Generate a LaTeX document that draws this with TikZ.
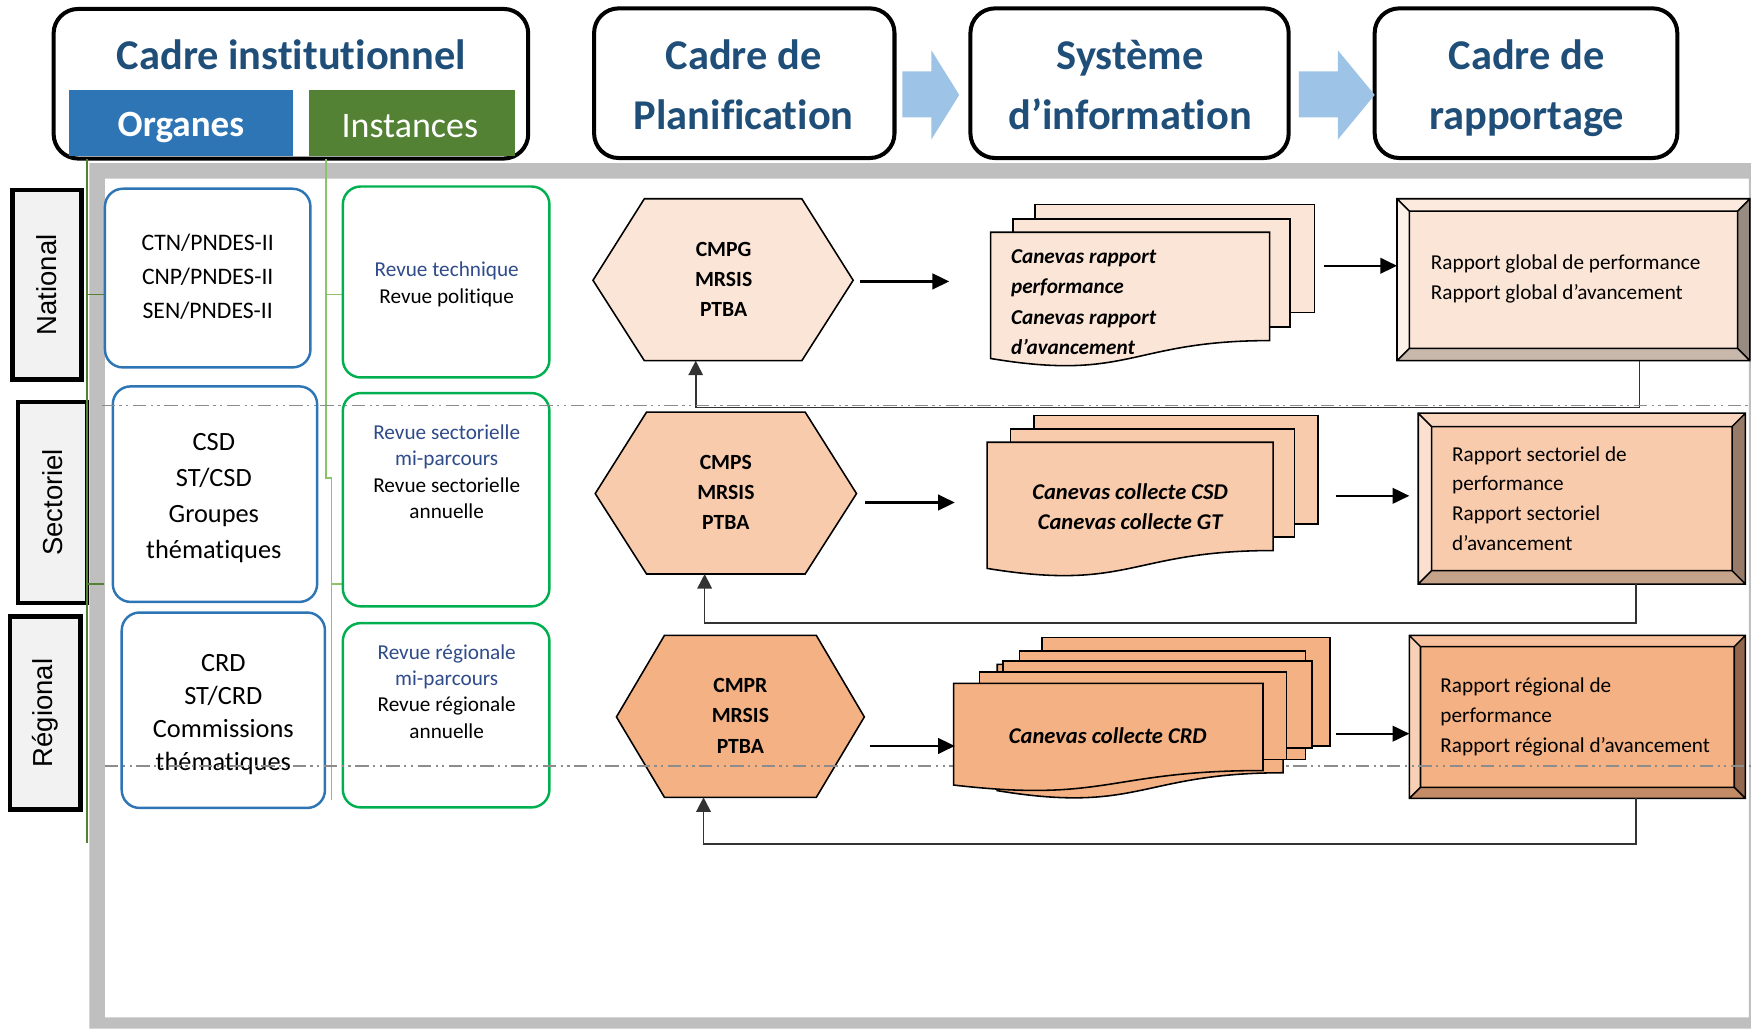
\documentclass[tikz,border=0pt]{standalone}
\usepackage{fontspec}
\setmainfont{Carlito}[Ligatures={TeX,NoCommon}]
\newfontfamily\lblfont{Liberation Sans}
\usetikzlibrary{arrows.meta}
\definecolor{ttlblue}{HTML}{1F4E79}
\definecolor{orgblue}{HTML}{2E75B6}
\definecolor{insgreen}{HTML}{548235}
\definecolor{boxgreen}{HTML}{00B050}
\definecolor{revblue}{HTML}{2F4B8A}
\definecolor{lblgray}{HTML}{F2F2F2}
\definecolor{framegray}{HTML}{BFBFBF}
\definecolor{arrblue}{HTML}{9DC3E6}
\definecolor{lineg1}{HTML}{548235}
\definecolor{lineg2}{HTML}{8CC26A}
\definecolor{pA}{HTML}{FBE5D6}
\definecolor{pB}{HTML}{F8CBAD}
\definecolor{pC}{HTML}{F4B183}
\definecolor{pAtop}{HTML}{FCEADF}
\definecolor{pAleft}{HTML}{FDF2EA}
\definecolor{pAbot}{HTML}{C8B8AC}
\definecolor{pAright}{HTML}{978B82}
\definecolor{pBtop}{HTML}{F9D5BE}
\definecolor{pBleft}{HTML}{FBE0CF}
\definecolor{pBbot}{HTML}{C5A28A}
\definecolor{pBright}{HTML}{977A68}
\definecolor{pCtop}{HTML}{F6C09C}
\definecolor{pCleft}{HTML}{F8D0B5}
\definecolor{pCbot}{HTML}{C48C66}
\definecolor{pCright}{HTML}{93674D}
\newcommand{\mybevel}[6]{%
  \fill[#6top] (#1,#2) -- (#3,#2) -- (#3-#5,#2+#5) -- (#1+#5,#2+#5) -- cycle;
  \fill[#6left] (#1,#2) -- (#1+#5,#2+#5) -- (#1+#5,#4-#5) -- (#1,#4) -- cycle;
  \fill[#6bot] (#1,#4) -- (#1+#5,#4-#5) -- (#3-#5,#4-#5) -- (#3,#4) -- cycle;
  \fill[#6right] (#3,#2) -- (#3,#4) -- (#3-#5,#4-#5) -- (#3-#5,#2+#5) -- cycle;
  \fill[#6] (#1+#5,#2+#5) rectangle (#3-#5,#4-#5);
  \draw[line width=0.7pt] (#1,#2) rectangle (#3,#4) (#1+#5,#2+#5) rectangle (#3-#5,#4-#5)
    (#1,#2) -- (#1+#5,#2+#5) (#3,#2) -- (#3-#5,#2+#5) (#1,#4) -- (#1+#5,#4-#5) (#3,#4) -- (#3-#5,#4-#5);
}
\begin{document}
\begin{tikzpicture}[x=0.5pt,y=-0.5pt,
  hdrbox/.style={draw=black, line width=1.8pt, rounded corners=11pt, fill=white, inner sep=0pt, minimum height=67pt},
  ttl/.style={text=ttlblue, font=\fontsize{19}{27}\selectfont\bfseries, align=center, inner sep=0pt},
  orgbox/.style={draw=orgblue, line width=1.1pt, rounded corners=8pt, fill=white, inner sep=0pt, align=center},
  insbox/.style={draw=boxgreen, line width=1.1pt, rounded corners=8pt, fill=white, inner sep=0pt},
  lvl/.style={draw=black, line width=2pt, fill=lblgray, rotate=90, inner sep=0pt, font=\lblfont\fontsize{12.3}{14}\selectfont},
  instxt/.style={align=center, inner sep=0pt, font=\fontsize{9.5}{11.8}\selectfont},
  hextxt/.style={align=center, inner sep=0pt, font=\bfseries\fontsize{9.7}{13.5}\selectfont},
  hexa/.style={fill=#1, draw=black, line width=0.7pt},
  mdoc/.style={fill=#1, draw=black, line width=0.7pt},
  doctxt/.style={inner sep=0pt, font=\bfseries\itshape\fontsize{10.1}{13.5}\selectfont},
  reptxt/.style={inner sep=0pt, align=left, anchor=west, font=\fontsize{9.5}{13.4}\selectfont},
  flow/.style={-{Triangle[length=7.5pt,width=7pt]}, line width=1pt, black},
  fb/.style={-{Triangle[length=6.5pt,width=6.5pt]}, line width=0.75pt, black!80},
  dashdot/.style={draw=black!45, line width=0.6pt, dash pattern=on 6pt off 2pt on 1pt off 2pt on 1pt off 2pt}
]
\useasboundingbox (0,0) rectangle (1568,921);
% frame
\fill[framegray, even odd rule] (80,146) rectangle (1568,921) (94,160) rectangle (1566,911);

% headers
\node[hdrbox, minimum width=212.5pt] (hI) at (260.5,75) {};
\node[hdrbox, minimum width=134.5pt] (hP) at (666.5,74.5) {};
\node[hdrbox, minimum width=142.5pt] (hS) at (1011.5,74.5) {};
\node[hdrbox, minimum width=135.5pt] (hR) at (1366.5,74.5) {};
\node[fill=orgblue, minimum width=100pt, minimum height=29.5pt, inner sep=0pt] (orgH) at (162,110.5) {};
\node[fill=insgreen, minimum width=92pt, minimum height=29.5pt, inner sep=0pt] (insH) at (369,110.5) {};
\node[text=white, font=\bfseries\fontsize{16.6}{18}\selectfont, inner sep=0pt] (orgT) at (162,114) {Organes};
\node[text=white, font=\fontsize{16.1}{18}\selectfont, inner sep=0pt] (insT) at (367,113) {Instances};
\node[ttl] (tI) at (261,49) {Cadre institutionnel};
\node[ttl] (tP) at (666,76) {Cadre de\\Planification};
\node[ttl] (tS) at (1012,76) {Système\\d’information};
\node[ttl] (tR) at (1367,79) {Cadre de\\rapportage};
\fill[arrblue] (808,64) -- (834,64) -- (834,45) -- (859,85) -- (834,125) -- (834,105) -- (808,105) -- cycle;
\fill[arrblue] (1163,64) -- (1198,64) -- (1198,45) -- (1231,85) -- (1198,125) -- (1198,105) -- (1163,105) -- cycle;

% level labels
\node[lvl, minimum width=85pt, minimum height=31pt] (labN) at (42,255) {National};
\node[lvl, minimum width=90pt, minimum height=31pt] (labS) at (47,450) {Sectoriel};
\node[lvl, minimum width=86.5pt, minimum height=31.5pt] (labR) at (40.5,638.5) {Régional};

% green connector lines
\draw[lineg1, line width=0.6pt] (78,142) -- (78,755);
\draw[lineg1, line width=0.6pt] (78,264) -- (94,264) (78,523) -- (93,523);
\draw[lineg2, line width=0.6pt] (292,142) -- (292,428) -- (297,428) -- (297,716);
\draw[lineg2, line width=0.6pt] (292,264) -- (307,264) (297,523) -- (307,523);

% organes boxes
\node[orgbox, minimum width=92pt, minimum height=80pt] (orgN) at (186,249) {};
\node[orgbox, minimum width=91.5pt, minimum height=96.5pt] (orgS) at (192.5,442.5) {};
\node[orgbox, minimum width=91pt, minimum height=87.5pt] (orgR) at (200,636) {};
\node[align=center, inner sep=0pt, font=\fontsize{10.6}{15.25}\selectfont] (orgNt) at (186,248) {CTN/PNDES-II\\CNP/PNDES-II\\SEN/PNDES-II};
\node[align=center, inner sep=0pt, font=\fontsize{11.8}{16.2}\selectfont] (orgSt) at (191.5,446) {CSD\\ST/CSD\\Groupes\\thématiques};
\node[align=center, inner sep=0pt, font=\fontsize{11.8}{14.7}\selectfont] (orgRt) at (200,640) {CRD\\ST/CRD\\Commissions\\thématiques};

% instances boxes
\node[insbox, minimum width=92.5pt, minimum height=85.5pt] (insN) at (399.5,252.5) {};
\node[insbox, minimum width=92.5pt, minimum height=95.5pt] (insS) at (399.5,447.5) {};
\node[insbox, minimum width=92.5pt, minimum height=82.5pt] (insR) at (399.5,640.5) {};
\node[instxt] (insNt) at (400,254.5) {\textcolor{revblue}{Revue technique}\\Revue politique};
\node[instxt] (insSt) at (400,422.5) {\textcolor{revblue}{Revue sectorielle}\\\textcolor{revblue}{mi-parcours}\\Revue sectorielle\\annuelle};
\node[instxt] (insRt) at (400,619) {\textcolor{revblue}{Revue régionale}\\\textcolor{revblue}{mi-parcours}\\Revue régionale\\annuelle};

% hexagons
\filldraw[hexa=pA] (531,251) -- (577,178) -- (718,178) -- (764,251) -- (718,323) -- (577,323) -- cycle;
\filldraw[hexa=pB] (533,442) -- (579,369) -- (721,369) -- (767,442) -- (721,514) -- (579,514) -- cycle;
\filldraw[hexa=pC] (552,642) -- (595,569) -- (731,569) -- (774,642) -- (731,714) -- (595,714) -- cycle;
\node[hextxt] (hexG) at (648,250) {CMPG\\MRSIS\\PTBA};
\node[hextxt] (hexS) at (650,441) {CMPS\\MRSIS\\PTBA};
\node[hextxt] (hexR) at (663,641) {CMPR\\MRSIS\\PTBA};

% reports
\mybevel{1251}{178}{1567}{323}{11}{pA}
\mybevel{1270}{370}{1563}{523}{12}{pB}
\mybevel{1262}{569}{1563}{715}{10}{pC}
\node[reptxt] (rep1) at (1281,250) {Rapport global de performance\\Rapport global d’avancement};
\node[reptxt] (rep2) at (1300,446.5) {Rapport sectoriel de\\performance\\Rapport sectoriel\\d’avancement};
\node[reptxt] (rep3) at (1289.5,642) {Rapport régional de\\performance\\Rapport régional d’avancement};

% feedback connectors
\coordinate (r1b) at (1468,323); \coordinate (h1b) at (623,323);
\coordinate (r2b) at (1465,523); \coordinate (h2b) at (631,514);
\coordinate (r3b) at (1465,715); \coordinate (h3b) at (630,714);
\draw[fb] (r1b) -- ++(0,42) -| (h1b);
\draw[fb] (r2b) -- ++(0,35) -| (h2b);
\draw[fb] (r3b) -- ++(0,41) -| (h3b);

% level separators
\draw[dashdot] (91,363) -- (1568,363);
\draw[dashdot] (94,686) -- (1568,686);

% document stacks
\filldraw[mdoc=pA] (927,183) rectangle (1177,280);
\filldraw[mdoc=pA] (907,196) rectangle (1155,293);
\filldraw[mdoc=pA] (887,208) -- (1137,208) -- (1137,305) .. controls (1012,305) and (1012,342) .. (887,321) -- cycle;
\filldraw[mdoc=pB] (926,372) rectangle (1180,469);
\filldraw[mdoc=pB] (905,384) rectangle (1159,481);
\filldraw[mdoc=pB] (884,396) -- (1140,396) -- (1140,493) .. controls (1012,493) and (1012,530) .. (884,509) -- cycle;
\filldraw[mdoc=pC] (933,571) rectangle (1191,668);
\filldraw[mdoc=pC] (913,583) rectangle (1169,680);
\filldraw[mdoc=pC] (893,595) -- (1149,595) -- (1149,692) .. controls (1021,692) and (1021,729) .. (893,708) -- cycle;
\filldraw[mdoc=pC] (898,592) rectangle (1175,670);
\filldraw[mdoc=pC] (877,602) rectangle (1152,680);
\filldraw[mdoc=pC] (854,612) -- (1131,612) -- (1131,690) .. controls (992,690) and (992,719) .. (854,703) -- cycle;
\node[doctxt, align=left, anchor=west, font=\bfseries\itshape\fontsize{9.5}{13.5}\selectfont] (docG) at (905,270.5) {Canevas rapport\\performance\\Canevas rapport\\d’avancement};
\node[doctxt, align=center] (docS) at (1012,453.5) {Canevas collecte CSD\\Canevas collecte GT};
\node[doctxt, align=center] (docR) at (992,659) {Canevas collecte CRD};

% flow arrows
\coordinate (a1s) at (770,252); \coordinate (a1e) at (850,252);
\coordinate (a2s) at (775,450); \coordinate (a2e) at (855,450);
\coordinate (a3s) at (779,668); \coordinate (a3e) at (855,668);
\coordinate (b1s) at (1186,238); \coordinate (b1e) at (1251,238);
\coordinate (b2s) at (1196,444); \coordinate (b2e) at (1262,444);
\coordinate (b3s) at (1196,657); \coordinate (b3e) at (1262,657);
\draw[flow] (a1s) -- (a1e);
\draw[flow] (a2s) -- (a2e);
\draw[flow] (a3s) -- (a3e);
\draw[flow] (b1s) -- (b1e);
\draw[flow] (b2s) -- (b2e);
\draw[flow] (b3s) -- (b3e);
\end{tikzpicture}
\end{document}
